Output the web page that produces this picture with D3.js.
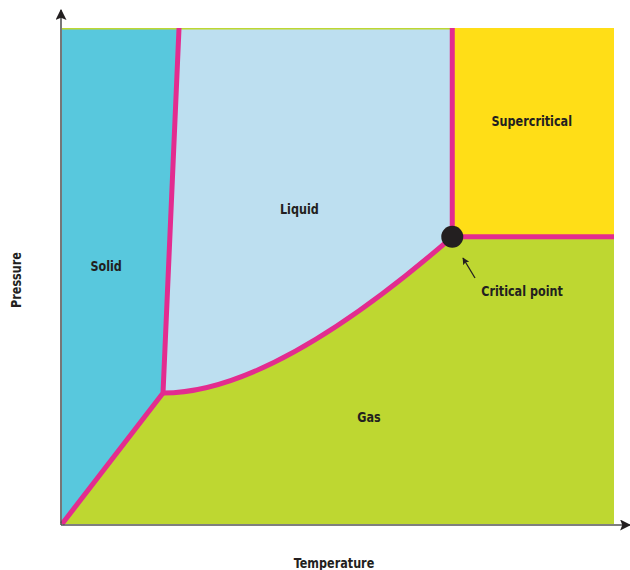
<!DOCTYPE html>
<html>
<head>
<meta charset="utf-8">
<script src="https://cdn.jsdelivr.net/npm/d3@7"></script>
<style>
  body { margin: 0; background: #fff; }
  text { font-family: "DejaVu Sans Condensed", "DejaVu Sans", sans-serif; font-weight: bold; fill: #231f20; }
</style>
</head>
<body>
<script>
// phase boundaries, in arbitrary 0-100 units of temperature / pressure
var origin = [0, 0];
var triplePoint = [18.3, 26.4];
var criticalPoint = [70.7, 57.9];
var meltTop = [21.2, 100];
// vaporisation curve: a quadratic bend from triple point to critical point, via this control point
var boilControl = [38.2, 26.4];
var regionNames = ["Solid", "Liquid", "Gas", "Supercritical"];
var regionLabelPos = [[8.0, 52.0], [43.0, 63.5], [55.6, 21.5], [85.1, 81.3]];
var regionColors = ["#58c8dd", "#bddff0", "#bed731", "#ffde17"];

var w = 630, h = 570;
var x0 = 62, x1 = 614, y0 = 524, y1 = 28;

var x = d3.scaleLinear().domain([0, 100]).range([x0, x1]);
var y = d3.scaleLinear().domain([0, 100]).range([y0, y1]);

var svg = d3.select("body").append("svg")
  .attr("width", w)
  .attr("height", h);

var defs = svg.append("defs");
defs.append("marker")
  .attr("id", "head")
  .attr("viewBox", "0 0 10 10")
  .attr("refX", 9).attr("refY", 5)
  .attr("markerWidth", 7).attr("markerHeight", 7)
  .attr("markerUnits", "userSpaceOnUse")
  .attr("orient", "auto")
  .append("path").attr("d", "M0,0 L10,5 L0,10 L2,5 z").attr("fill", "#231f20");
defs.append("marker")
  .attr("id", "bigHead")
  .attr("viewBox", "0 0 10 10")
  .attr("refX", 9).attr("refY", 5)
  .attr("markerWidth", 11).attr("markerHeight", 11)
  .attr("markerUnits", "userSpaceOnUse")
  .attr("orient", "auto")
  .append("path").attr("d", "M0,0 L10,5 L0,10 L2,5 z").attr("fill", "#231f20");

var line = d3.line().x(function(d){ return x(d[0]); }).y(function(d){ return y(d[1]); });

// boiling curve as a d3.path
function boilPath(p) {
  p = p || d3.path();
  p.moveTo(x(triplePoint[0]), y(triplePoint[1]));
  p.quadraticCurveTo(x(boilControl[0]), y(boilControl[1]), x(criticalPoint[0]), y(criticalPoint[1]));
  return p;
}

// gas fills the background
svg.append("rect")
  .attr("x", x(0)).attr("y", y(100))
  .attr("width", x(100) - x(0)).attr("height", y(0) - y(100))
  .attr("fill", regionColors[2]);

// solid
svg.append("path")
  .attr("d", line([origin, triplePoint, [meltTop[0], 99.7], [0, 99.7]]) + "Z")
  .attr("fill", regionColors[0]);

// liquid: along the boiling curve, up to the top, back to the melt line
var lp = boilPath();
lp.lineTo(x(criticalPoint[0]), y(99.7));
lp.lineTo(x(meltTop[0]), y(99.7));
lp.closePath();
svg.append("path").attr("d", lp.toString()).attr("fill", regionColors[1]);

// supercritical
svg.append("path")
  .attr("d", line([criticalPoint, [criticalPoint[0], 100], [100, 100], [100, criticalPoint[1]]]) + "Z")
  .attr("fill", regionColors[3]);

// boundaries
var pink = "#e32c8f";
svg.append("path").attr("d", line([origin, triplePoint, meltTop]))
  .attr("fill", "none").attr("stroke", pink).attr("stroke-width", 5).attr("stroke-linejoin", "round");
svg.append("path").attr("d", boilPath().toString())
  .attr("fill", "none").attr("stroke", pink).attr("stroke-width", 5);
svg.append("path").attr("d", line([[criticalPoint[0], 100], criticalPoint, [100, criticalPoint[1]]]))
  .attr("fill", "none").attr("stroke", pink).attr("stroke-width", 5);

svg.append("circle")
  .attr("cx", x(criticalPoint[0])).attr("cy", y(criticalPoint[1]))
  .attr("r", 11).attr("fill", "#231f20");

// axes
svg.append("line")
  .attr("x1", x0 - 1).attr("y1", y0 + 1).attr("x2", x0 - 1).attr("y2", 10)
  .attr("stroke", "#555").attr("stroke-width", 1.6).attr("marker-end", "url(#bigHead)");
svg.append("line")
  .attr("x1", x0 - 1).attr("y1", y0 + 1).attr("x2", 630).attr("y2", y0 + 1)
  .attr("stroke", "#555").attr("stroke-width", 1.6).attr("marker-end", "url(#bigHead)");

// condensed bold labels: squeeze horizontally
function label(px, py, txt, rot) {
  svg.append("text")
    .attr("transform", "translate(" + px + "," + py + ")" + (rot ? " rotate(" + rot + ")" : "") + " scale(0.86,1)")
    .attr("text-anchor", "middle")
    .attr("dy", "0.35em")
    .attr("font-size", 14.5)
    .text(txt);
}

regionNames.forEach(function(d, i){
  label(x(regionLabelPos[i][0]), y(regionLabelPos[i][1]), d);
});

// critical point annotation
label(522, 291, "Critical point");
svg.append("line")
  .attr("x1", 475).attr("y1", 278).attr("x2", 463).attr("y2", 258)
  .attr("stroke", "#231f20").attr("stroke-width", 1.3).attr("marker-end", "url(#head)");

// axis titles
label(334, 563, "Temperature");
label(16, 280, "Pressure", -90);
</script>
</body>
</html>
